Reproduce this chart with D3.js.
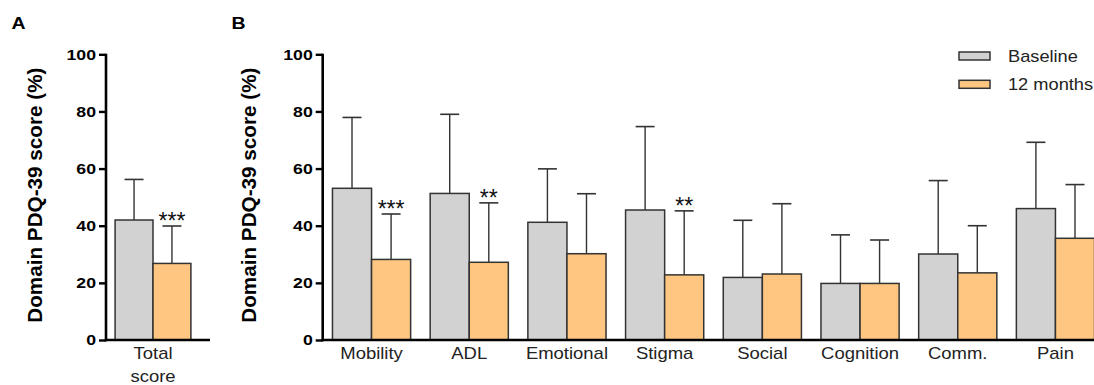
<!DOCTYPE html>
<html>
<head>
<meta charset="utf-8">
<script src="https://cdn.jsdelivr.net/npm/d3@7"></script>
<style>
  html, body { margin: 0; padding: 0; background: #fff; }
  svg { display: block; font-family: "Liberation Sans", Arial, sans-serif; }
</style>
</head>
<body>
<svg id="chart" width="1094" height="385"></svg>
<script>
// PDQ-39 scores (%), mean and mean + SD, baseline vs 12 months
const seriesNames = ["Baseline", "12 months"];
const seriesColors = ["#d2d2d2", "#fec680"];

const totalCategory = ["Total score"];
const totalBaseline = [42.0];
const totalBaselineUpper = [56.2];
const totalMonths12 = [26.8];
const totalMonths12Upper = [39.9];
const totalSignificance = ["***"];

const domains = ["Mobility", "ADL", "Emotional", "Stigma", "Social", "Cognition", "Comm.", "Pain"];
const domainBaseline = [53.1, 51.3, 41.2, 45.5, 21.9, 19.8, 30.1, 46.0];
const domainBaselineUpper = [77.9, 79.0, 59.9, 74.7, 41.9, 36.8, 55.8, 69.2];
const domainMonths12 = [28.2, 27.2, 30.2, 22.8, 23.1, 19.8, 23.5, 35.6];
const domainMonths12Upper = [44.1, 48.0, 51.2, 45.2, 47.7, 35.0, 40.0, 54.4];
const domainSignificance = ["***", "**", "", "**", "", "", "", ""];

const yTicks = [0, 20, 40, 60, 80, 100];
const yTitle = "Domain PDQ-39 score (%)";

// the figure's lettering is set slightly wide
const WIDE = 1.14;

const svg = d3.select("#chart");

function widen(sel, k = WIDE) {
  sel.each(function() {
    const t = d3.select(this);
    const x = +(t.attr("x") || 0);
    t.attr("x", x / k).attr("transform", `scale(${k},1)`);
  });
}

function buildRows(cats, base, baseUp, m12, m12Up, sig) {
  return cats.map((c, i) => ({
    cat: c,
    sig: sig[i],
    vals: [
      { s: 0, v: base[i], up: baseUp[i] },
      { s: 1, v: m12[i], up: m12Up[i] }
    ]
  }));
}

function drawPanel(opts) {
  const { rows, x, y, axisX, axisEnd, titleX, letter, letterX, multiLineLabel } = opts;
  const g = svg.append("g");
  const inner = d3.scaleBand().domain([0, 1]).range([0, x.bandwidth()]);

  const grp = g.selectAll("g.cat").data(rows).join("g")
    .attr("transform", d => `translate(${x(d.cat)},0)`);

  // error bars (upper SD only)
  grp.selectAll("line.err").data(d => d.vals).join("line")
    .attr("x1", d => inner(d.s) + inner.bandwidth() / 2)
    .attr("x2", d => inner(d.s) + inner.bandwidth() / 2)
    .attr("y1", d => y(d.v))
    .attr("y2", d => y(d.up))
    .attr("stroke", "#333").attr("stroke-width", 1.4);
  grp.selectAll("line.cap").data(d => d.vals).join("line")
    .attr("x1", d => inner(d.s) + inner.bandwidth() / 2 - 9.5)
    .attr("x2", d => inner(d.s) + inner.bandwidth() / 2 + 9.5)
    .attr("y1", d => y(d.up))
    .attr("y2", d => y(d.up))
    .attr("stroke", "#333").attr("stroke-width", 1.6);

  // bars
  grp.selectAll("rect").data(d => d.vals).join("rect")
    .attr("x", d => inner(d.s))
    .attr("y", d => y(d.v))
    .attr("width", inner.bandwidth())
    .attr("height", d => y(0) - y(d.v))
    .attr("fill", d => seriesColors[d.s])
    .attr("stroke", "#333").attr("stroke-width", 1.5);

  // significance markers above the 12-month error bar
  grp.filter(d => d.sig).append("text")
    .attr("x", inner(1) + inner.bandwidth() / 2)
    .attr("y", d => y(d.vals[1].up) + 3)
    .attr("text-anchor", "middle")
    .attr("font-size", 23)
    .attr("fill", "#111")
    .text(d => d.sig);

  // y axis
  const yAxis = d3.axisLeft(y).tickValues(yTicks).tickSize(7).tickPadding(3).tickSizeOuter(0);
  const ya = g.append("g").attr("transform", `translate(${axisX},0)`).call(yAxis);
  ya.select(".domain").attr("stroke", "#000").attr("stroke-width", 2.6)
    .attr("d", `M0,${y(100) - 0.5}V${y(0) + 1.3}`);
  ya.selectAll(".tick line").attr("stroke", "#000").attr("stroke-width", 2.4);
  ya.selectAll(".tick text").attr("fill", "#000").attr("font-size", 15.5)
    .attr("font-weight", "bold").attr("font-family", "Liberation Sans, Arial, sans-serif")
    .call(widen);

  // x axis line and category labels
  const xa = g.append("g").attr("transform", `translate(0,${y(0)})`)
    .call(d3.axisBottom(x).tickSize(0).tickPadding(8));
  xa.select(".domain").attr("stroke", "#000").attr("stroke-width", 2.6)
    .attr("d", `M${axisX - 1.3},0H${axisEnd}`);
  xa.selectAll(".tick text").attr("fill", "#222").attr("font-size", 16.2)
    .attr("font-family", "Liberation Sans, Arial, sans-serif");
  if (multiLineLabel) {
    xa.selectAll(".tick text").each(function(d) {
      const t = d3.select(this);
      const words = d.split(" ");
      t.text(null);
      words.forEach((w, i) => t.append("tspan").attr("x", 0).attr("dy", i === 0 ? "0.71em" : "1.36em").text(w));
    });
  }
  xa.selectAll(".tick text").call(widen);

  // y title
  g.append("text")
    .attr("transform", `translate(${titleX},${(y(0) + y(100)) / 2 - 2}) rotate(-90)`)
    .attr("text-anchor", "middle")
    .attr("font-size", 20.7).attr("font-weight", "bold").attr("fill", "#000")
    .text(yTitle);

  // panel letter
  g.append("text")
    .attr("x", letterX).attr("y", 29.5)
    .attr("font-size", 16.5).attr("font-weight", "bold").attr("fill", "#000")
    .text(letter)
    .call(widen, 1.18);
}

const y = d3.scaleLinear().domain([0, 100]).range([340, 54.3]);

// Panel A: total score
const xA = d3.scaleBand().domain(totalCategory).range([106, 200]).paddingOuter(0.12);
drawPanel({
  rows: buildRows(totalCategory, totalBaseline, totalBaselineUpper, totalMonths12, totalMonths12Upper, totalSignificance),
  x: xA, y, axisX: 106, axisEnd: 210, titleX: 42, letter: "A", letterX: 11.5, multiLineLabel: true
});

// Panel B: individual domains
const xB = d3.scaleBand().domain(domains).range([322.7, 1104.3]).paddingInner(0.2).paddingOuter(0.1);
drawPanel({
  rows: buildRows(domains, domainBaseline, domainBaselineUpper, domainMonths12, domainMonths12Upper, domainSignificance),
  x: xB, y, axisX: 322.7, axisEnd: 1094, titleX: 256, letter: "B", letterX: 231.5, multiLineLabel: false
});

// legend
const legend = svg.append("g").attr("transform", "translate(959,52)");
const li = legend.selectAll("g").data(seriesNames).join("g")
  .attr("transform", (d, i) => `translate(0,${i * 28.3})`);
li.append("rect").attr("width", 31).attr("height", 8)
  .attr("fill", (d, i) => seriesColors[i]).attr("stroke", "#333").attr("stroke-width", 1.5);
li.append("text").attr("x", 49).attr("y", 4).attr("dy", "0.36em")
  .attr("font-size", 16).attr("fill", "#222").text(d => d)
  .call(widen);
</script>
</body>
</html>
